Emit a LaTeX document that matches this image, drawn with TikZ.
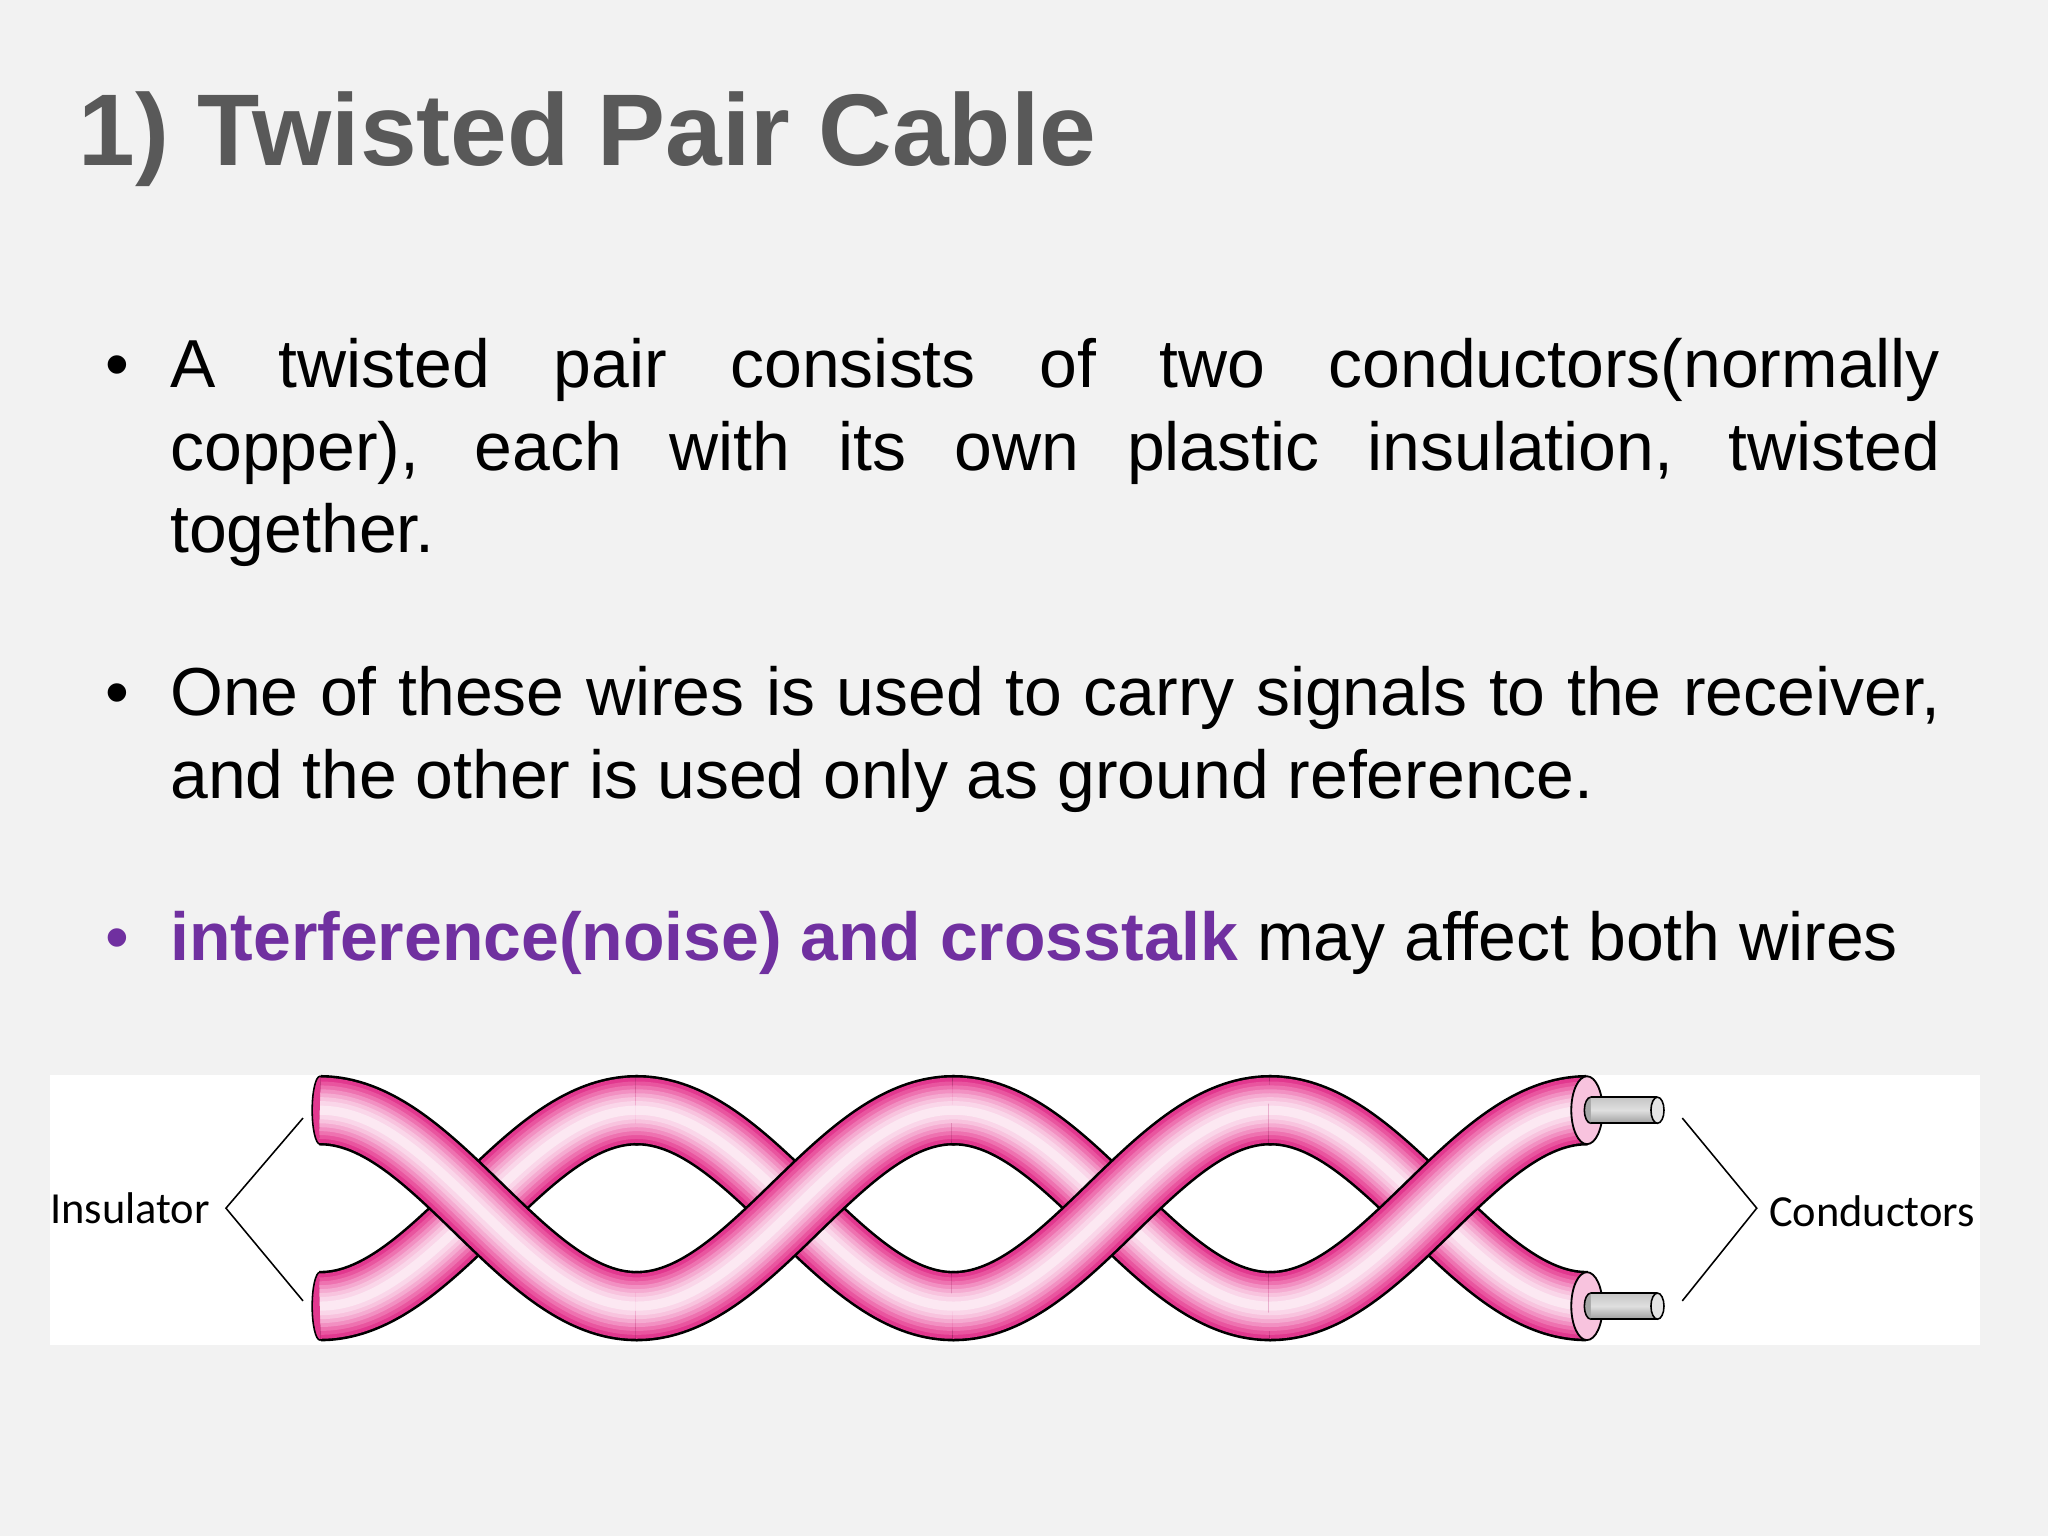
\documentclass[tikz,border=0pt]{standalone}
\usepackage{fontspec}
\setmainfont{Liberation Sans}
\newfontfamily\labfont{Carlito}
\definecolor{bg}{HTML}{F2F2F2}
\definecolor{ttl}{HTML}{595959}
\definecolor{purp}{HTML}{7030A0}
\definecolor{pa}{HTML}{E2388F}
\definecolor{pb}{HTML}{E9559F}
\definecolor{pc}{HTML}{EE72B0}
\definecolor{pd}{HTML}{F290C2}
\definecolor{pe}{HTML}{F5ABD1}
\definecolor{pf}{HTML}{F8C3DE}
\definecolor{pg}{HTML}{FAD6E9}
\definecolor{ph}{HTML}{FCE8F2}
\tikzset{
  body/.style={font=\fontsize{26pt}{31.5pt}\selectfont, inner sep=0pt, anchor=base west},
  bul/.style={font=\fontsize{26pt}{31.5pt}\selectfont, inner sep=0pt, anchor=base},
  lab/.style={font=\labfont\fontsize{17pt}{20pt}\selectfont, inner sep=0pt},
  brk/.style={line width=0.6pt, black},
}
\newcommand{\tubeseg}[3]{% sign, from, to
  \foreach \w/\c in {54/black,50/pa,44/pb,38/pc,32/pd,26/pe,20/pf,14/pg,7/ph}{
    \draw[line width=\w*0.5pt, color=\c] plot[smooth, samples=40, domain=#2:#3]
      (\x, {925 - #1*75*cos(0.742268*(\x-245))});
  }
}
\begin{document}
\begin{tikzpicture}[x=0.5pt,y=-0.5pt]
\fill[bg] (0,0) rectangle (1568,1176);
\useasboundingbox (0,0) rectangle (1568,1176);
\node[inner sep=0pt, anchor=base west, text=ttl, font=\bfseries\fontsize{39pt}{45pt}\selectfont] (title) at (60,127) {1) Twisted Pair Cable};

\node[bul] (b1) at (90,297) {•};
\node[body, text width=677.5pt, align=justify] (t1) at (130,297) {\hyphenpenalty=10000 A twisted pair consists of two conductors(normally\linebreak copper), each with its own plastic insulation, twisted\linebreak together.};
\node[bul] (b2) at (90,548) {•};
\node[body, text width=677.5pt, align=justify] (t2) at (130,548) {\hyphenpenalty=10000 One of these wires is used to carry signals to the receiver, and the other is used only as ground reference.};
\node[bul, text=purp] (b3) at (90,735) {•};
\node[body] (t3) at (130,735) {\textcolor{purp}{\bfseries interference(noise) and crosstalk} may affect both wires};

% cable panel
\fill[white] (38,823) rectangle (1516,1030);
% left end caps
\draw[fill=pa, line width=0.6pt] (245,850) ellipse [x radius=6, y radius=26];
\draw[fill=pa, line width=0.6pt] (245,1000) ellipse [x radius=6, y radius=26];
% segments: up-going first, down-going on top
\tubeseg{-1}{245}{488.5}
\tubeseg{1}{245}{488.5}
\tubeseg{-1}{486.5}{731}
\tubeseg{1}{486.5}{731}
\tubeseg{1}{729}{973.5}
\tubeseg{-1}{729}{973.5}
\tubeseg{-1}{971.5}{1215}
\tubeseg{1}{971.5}{1215}
% right end caps with conductors
\foreach \yy in {850,1000}{
  \draw[fill=pf, line width=0.7pt] (1215,\yy) ellipse [x radius=12, y radius=26];
  \draw[fill=gray!70, line width=0.6pt] (1218,\yy) ellipse [x radius=5, y radius=10];
  \shade[top color=gray!45, bottom color=gray!75, middle color=gray!25] (1218,\yy-10) rectangle (1269,\yy+10);
  \draw[line width=0.6pt] (1218,\yy-10) -- (1269,\yy-10) (1218,\yy+10) -- (1269,\yy+10);
  \draw[fill=gray!20, line width=0.6pt] (1269,\yy) ellipse [x radius=5, y radius=10];
}
% labels
\node[lab, anchor=east] (ins) at (161,925) {Insulator};
\coordinate (ia) at (173,925);
\coordinate (i1) at (232,856);
\coordinate (i2) at (232,996);
\draw[brk] (i1) -- (ia) -- (i2);
\node[lab, anchor=west] (con) at (1354,927) {Conductors};
\coordinate (ca) at (1345,925);
\coordinate (c1) at (1288,856);
\coordinate (c2) at (1288,996);
\draw[brk] (c1) -- (ca) -- (c2);
\end{tikzpicture}
\end{document}
